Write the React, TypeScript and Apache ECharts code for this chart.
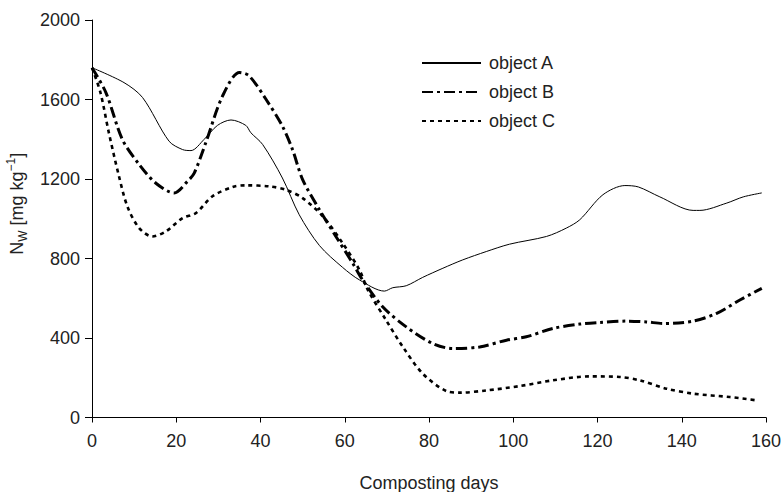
import React, { useEffect, useRef } from "react";
import * as echarts from "echarts";

const seriesNames = ["object A", "object B", "object C"];

const daysA = [0, 7.6, 12, 18.3, 21.5, 23.5, 26.6, 29.8, 33, 36.5, 37.7, 40.5, 45.2, 49.2, 54, 59.5, 63.5, 69.4, 71.4, 74.6, 78.5, 83.3, 88, 93.6, 99.1, 107.9, 112.6, 115.8, 121.3, 126.5, 129.7, 134.8, 142.7, 144.3, 150.7, 154.6, 159];
const valsA = [1760, 1685, 1610, 1390, 1348, 1343, 1399, 1470, 1497, 1470, 1433, 1374, 1205, 1020, 865, 755, 692, 636, 653, 663, 705, 751, 793, 835, 872, 911, 953, 995, 1121, 1167, 1160, 1110, 1042, 1042, 1079, 1110, 1130];

const daysB = [0, 3.3, 7.2, 11.2, 15.1, 19.5, 22.7, 24.3, 27, 31, 35, 37.3, 41.3, 45.2, 47.6, 50, 54, 57.9, 61.9, 64.3, 69, 74.6, 80.9, 85.7, 92, 98.4, 103.1, 109.4, 115.8, 120.5, 126.9, 131.6, 135.6, 142.7, 148.3, 153.8, 159];
const valsB = [1760, 1635, 1399, 1273, 1180, 1130, 1189, 1231, 1382, 1618, 1736, 1719, 1601, 1466, 1348, 1197, 1045, 911, 776, 690, 557, 456, 372, 347, 355, 389, 406, 448, 470, 478, 485, 481, 473, 485, 524, 591, 650];

const daysC = [0, 2, 4, 6.4, 8.4, 11.2, 14.3, 17.5, 21.5, 24.7, 28.6, 33.4, 36.5, 42.1, 46, 50, 54.8, 59.5, 63.5, 65.5, 69.8, 73.8, 78.5, 84.1, 87.3, 93.6, 101.5, 109.4, 118.2, 125.3, 130, 136.4, 142.7, 151.4, 157.8];
const valsC = [1760, 1635, 1433, 1214, 1062, 953, 911, 936, 1003, 1029, 1113, 1160, 1168, 1163, 1146, 1104, 1012, 877, 742, 641, 490, 355, 221, 133, 125, 136, 158, 187, 207, 204, 187, 145, 120, 103, 86];

const xTicks = [0, 20, 40, 60, 80, 100, 120, 140, 160];
const yTicks = [0, 400, 800, 1200, 1600, 2000];

const FONT = "'Liberation Sans', Arial, sans-serif";
const TXT = "#222";

function pairs(d: number[], v: number[]) {
  return d.map((x, i) => [x, v[i]]);
}

export default function App() {
  const ref = useRef<HTMLDivElement>(null);
  useEffect(() => {
    if (!ref.current) return;
    const chart = echarts.init(ref.current, undefined, { renderer: "svg" });
    const lineStyles = [
      { color: "#000", width: 1, type: "solid" as any },
      { color: "#000", width: 3, type: [11, 4, 3, 4] as any },
      { color: "#000", width: 2.6, type: [4, 4] as any },
    ];
    const data = [pairs(daysA, valsA), pairs(daysB, valsB), pairs(daysC, valsC)];
    chart.setOption({
      animation: false,
      backgroundColor: "#fff",
      textStyle: { fontFamily: FONT },
      grid: { left: 92, right: 17, top: 20, bottom: 74.5, containLabel: false, outerBoundsMode: "none" },
      legend: {
        orient: "vertical",
        left: 416,
        top: 49,
        itemWidth: 59,
        itemHeight: 14,
        itemGap: 11,
        data: seriesNames,
        itemStyle: { opacity: 0 },
        textStyle: { fontSize: 18, color: TXT, fontFamily: FONT, lineHeight: 18, padding: [0, 0, 0, 3] },
      },
      xAxis: {
        type: "value",
        min: xTicks[0],
        max: xTicks[xTicks.length - 1],
        interval: 20,
        name: "Composting days",
        nameLocation: "middle",
        nameGap: 56,
        nameTextStyle: { fontSize: 18, color: TXT, fontFamily: FONT },
        splitLine: { show: false },
        axisLine: { show: true, lineStyle: { color: "#000", width: 1 } },
        axisTick: { show: true, length: 5, lineStyle: { color: "#000" } },
        axisLabel: { fontSize: 18, color: TXT, margin: 14, fontFamily: FONT, formatter: (v: number) => String(v) },
      },
      yAxis: {
        type: "value",
        min: yTicks[0],
        max: yTicks[yTicks.length - 1],
        interval: 400,
        name: "{n|N}{s|W}{n| [mg kg}{p|−1}{n|]}",
        nameLocation: "middle",
        nameRotate: 90,
        nameGap: 62,
        nameTextStyle: {
          color: TXT,
          fontFamily: FONT,
          padding: [0, 0, 0, 30],
          rich: {
            n: { fontSize: 18, color: TXT, fontFamily: FONT, lineHeight: 24 },
            s: { fontSize: 12, color: TXT, fontFamily: FONT, lineHeight: 24, verticalAlign: "bottom" },
            p: { fontSize: 12, color: TXT, fontFamily: FONT, lineHeight: 24, verticalAlign: "top" },
          },
        },
        splitLine: { show: false },
        axisLine: { show: true, lineStyle: { color: "#000", width: 1 } },
        axisTick: { show: true, length: 7, lineStyle: { color: "#000" } },
        axisLabel: { fontSize: 18, color: TXT, margin: 12, fontFamily: FONT, formatter: (v: number) => String(v) },
      },
      series: seriesNames.map((name, i) => ({
        name,
        type: "line",
        data: data[i],
        smooth: 0.3,
        symbol: "none",
        showSymbol: false,
        lineStyle: lineStyles[i],
        itemStyle: { color: "#000" },
      })),
    });
    return () => chart.dispose();
  }, []);
  return <div ref={ref} style={{ width: 783, height: 492, position: "absolute", left: 0, top: 0 }} />;
}
